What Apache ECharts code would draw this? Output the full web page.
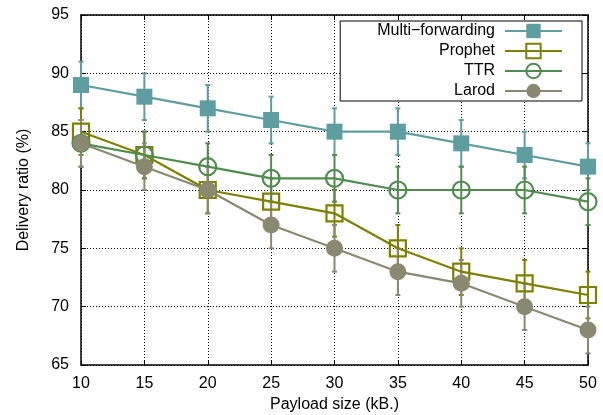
<!DOCTYPE html>
<html>
<head>
    <meta charset="utf-8">
    <title>Delivery ratio</title>
    <script src="https://cdn.jsdelivr.net/npm/echarts@6/dist/echarts.min.js"></script>
    <style>
        body { margin: 0; background-color: #ffffff; }
        #chart { width: 603px; height: 415px; }
    </style>
</head>
<body>
    <div id="chart"></div>
    <script>
        // payload sizes (kB)
        var payload = [10, 15, 20, 25, 30, 35, 40, 45, 50];

        var multiForwarding = [89, 88, 87, 86, 85, 85, 84, 83, 82];
        var prophet = [85, 83, 80, 79, 78, 75, 73, 72, 71];
        var ttr = [84, 83, 82, 81, 81, 80, 80, 80, 79];
        var larod = [84, 82, 80, 77, 75, 73, 72, 70, 68];

        // half length of the error bars
        var multiErr = [2, 2, 2, 2, 2, 2, 2, 2, 2];
        var prophetErr = [2, 2, 2, 2, 2, 2, 2, 2, 2];
        var ttrErr = [2, 2, 2, 2, 2, 2, 2, 2, 2];
        var larodErr = [2, 2, 2, 2, 2, 2, 2, 2, 2];

        var font = 'Liberation Sans, Arial, sans-serif';

        var defs = [
            { name: 'Multi\u2212forwarding', data: multiForwarding, err: multiErr, color: '#5f9ea0', symbol: 'rect', fill: '#5f9ea0' },
            { name: 'Prophet', data: prophet, err: prophetErr, color: '#808000', symbol: 'rect', fill: 'rgba(0,0,0,0)' },
            { name: 'TTR', data: ttr, err: ttrErr, color: '#4f8d4f', symbol: 'circle', fill: 'rgba(0,0,0,0)' },
            { name: 'Larod', data: larod, err: larodErr, color: '#8b8872', symbol: 'circle', fill: '#8b8872' }
        ];

        var series = [];
        defs.forEach(function (d, k) {
            // error bars
            series.push({
                type: 'custom',
                name: d.name + ' (err)',
                z: 2,
                silent: true,
                itemStyle: { color: d.color },
                data: payload.map(function (x, i) { return [x, d.data[i] - d.err[i], d.data[i] + d.err[i]]; }),
                renderItem: function (params, api) {
                    var lo = api.coord([api.value(0), api.value(1)]);
                    var hi = api.coord([api.value(0), api.value(2)]);
                    var st = { stroke: d.color, lineWidth: 2 };
                    return {
                        type: 'group',
                        children: [
                            { type: 'line', shape: { x1: lo[0], y1: lo[1], x2: hi[0], y2: hi[1] }, style: st },
                            { type: 'line', shape: { x1: lo[0] - 2.5, y1: lo[1], x2: lo[0] + 2.5, y2: lo[1] }, style: st },
                            { type: 'line', shape: { x1: hi[0] - 2.5, y1: hi[1], x2: hi[0] + 2.5, y2: hi[1] }, style: st }
                        ]
                    };
                }
            });
            series.push({
                type: 'line',
                name: d.name,
                z: 3 + k,
                data: payload.map(function (x, i) { return [x, d.data[i]]; }),
                symbol: d.symbol,
                symbolSize: d.symbol === 'rect' ? 16 : 17,
                showAllSymbol: true,
                lineStyle: { color: d.color, width: 2.2 },
                itemStyle: { color: d.fill, borderColor: d.color, borderWidth: d.fill === d.color ? 0 : 2.2 },
                animation: false
            });
        });

        var gridLine = { show: true, lineStyle: { color: '#000', type: [1, 2], width: 1 } };

        var chart = echarts.init(document.getElementById('chart'));
        chart.setOption({
            animation: false,
            backgroundColor: '#ffffff',
            grid: { left: 81, right: 15, top: 15, bottom: 50, outerBoundsMode: 'none', containLabel: false },
            legend: {
                data: defs.map(function (d) { return d.name; }),
                orient: 'vertical',
                align: 'right',
                right: 21,
                top: 21,
                itemWidth: 57,
                itemHeight: 18,
                itemGap: 2,
                padding: [1, 19, 1, 37],
                borderColor: '#000',
                borderWidth: 1,
                backgroundColor: '#fff',
                textStyle: { fontFamily: font, fontSize: 16, lineHeight: 18, color: '#000', padding: [0, 5, 0, 0] }
            },
            xAxis: [{
                type: 'value', min: 10, max: 50, interval: 5, position: 'bottom',
                name: 'Payload size (kB.)', nameLocation: 'middle', nameGap: 32,
                nameTextStyle: { fontFamily: font, fontSize: 16, color: '#000' },
                axisLine: { lineStyle: { color: '#000', width: 1.5 } },
                axisTick: { inside: true, length: 5, lineStyle: { color: '#000' } },
                axisLabel: { fontFamily: font, fontSize: 16, color: '#000', margin: 11 },
                splitLine: gridLine
            }, {
                type: 'value', min: 10, max: 50, interval: 5, position: 'top',
                axisLine: { lineStyle: { color: '#000', width: 1.5 } },
                axisTick: { inside: true, length: 5, lineStyle: { color: '#000' } },
                axisLabel: { show: false },
                splitLine: { show: false }
            }],
            yAxis: [{
                type: 'value', min: 65, max: 95, interval: 5, position: 'left',
                name: 'Delivery ratio (%)', nameLocation: 'middle', nameGap: 49,
                nameTextStyle: { fontFamily: font, fontSize: 16, color: '#000' },
                axisLine: { show: true, lineStyle: { color: '#000', width: 1.5 } },
                axisTick: { show: true, inside: true, length: 5, lineStyle: { color: '#000' } },
                axisLabel: { fontFamily: font, fontSize: 16, color: '#000', margin: 12 },
                splitLine: gridLine
            }, {
                type: 'value', min: 65, max: 95, interval: 5, position: 'right',
                axisLine: { show: true, lineStyle: { color: '#000', width: 1.5 } },
                axisTick: { show: true, inside: true, length: 5, lineStyle: { color: '#000' } },
                axisLabel: { show: false },
                splitLine: { show: false }
            }],
            series: series
        });
    </script>
</body>
</html>
